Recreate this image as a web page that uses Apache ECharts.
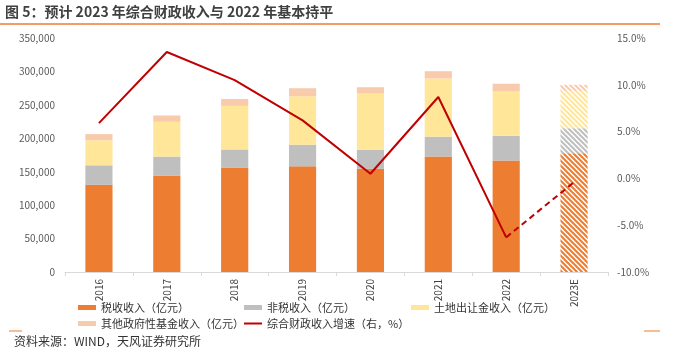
<!DOCTYPE html>
<html>
<head>
<meta charset="utf-8">
<script src="https://cdn.jsdelivr.net/npm/echarts@6/dist/echarts.min.js"></script>
<style>
html,body{margin:0;padding:0;background:#fff;}
#main{width:674px;height:359px;}
</style>
</head>
<body>
<div id="main"></div>
<script>
// ---- data ----
var categories = ['2016','2017','2018','2019','2020','2021','2022','2023E'];
var taxRevenue = [130361, 144370, 156403, 157992, 154312, 172731, 166614, 177500];
var nonTaxRevenue = [29244, 28222, 26949, 32390, 28584, 29646, 37089, 37500];
var landRevenue = [37457, 52059, 65096, 72517, 84142, 87051, 66854, 56000];
var otherFundRevenue = [9186, 9421, 10309, 11999, 9347, 10973, 11025, 9000];
var growthActual = [5.9, 13.5, 10.5, 6.2, 0.5, 8.7, -6.3, null];
var growthForecast = [null, null, null, null, null, null, -6.3, -0.4];
var leftTicks = [0, 50000, 100000, 150000, 200000, 250000, 300000, 350000];
var rightTicks = [-10, -5, 0, 5, 10, 15];
var seriesNames = ['税收收入（亿元）','非税收入（亿元）','土地出让金收入（亿元）','其他政府性基金收入（亿元）','综合财政收入增速（右，%）'];

// ---- chart ----
var colors = ['#ED7D31', '#BFBFBF', '#FFE699', '#F8CBAD'];
var FONT = '"Noto Sans CJK SC", "Liberation Sans", sans-serif';

function hatch(color) {
  var s = 5;
  var c = document.createElement('canvas');
  c.width = s; c.height = s;
  var ctx = c.getContext('2d');
  ctx.fillStyle = '#ffffff';
  ctx.fillRect(0, 0, s, s);
  ctx.strokeStyle = color;
  ctx.lineWidth = 2;
  ctx.beginPath();
  ctx.moveTo(-s, 0); ctx.lineTo(s * 2, s * 3);
  ctx.moveTo(-s * 2, 0); ctx.lineTo(s, s * 3);
  ctx.moveTo(0, 0); ctx.lineTo(s * 3, s * 3);
  ctx.moveTo(0, -s); ctx.lineTo(s * 2, s);
  ctx.moveTo(-s, -s); ctx.lineTo(s, s);
  ctx.moveTo(-s, -2 * s); ctx.lineTo(2 * s, s);
  ctx.stroke();
  return {image: c, repeat: 'repeat'};
}

function barData(values, idx) {
  return values.map(function (v, i) {
    if (i === values.length - 1) {
      return {value: v, itemStyle: {color: hatch(colors[idx])}};
    }
    return v;
  });
}

var barArrays = [taxRevenue, nonTaxRevenue, landRevenue, otherFundRevenue];
var series = barArrays.map(function (arr, idx) {
  return {
    name: seriesNames[idx],
    type: 'bar',
    stack: 'total',
    yAxisIndex: 0,
    barWidth: '40%',
    itemStyle: {color: colors[idx]},
    data: barData(arr, idx)
  };
});
series.push({
  name: seriesNames[4],
  type: 'line',
  yAxisIndex: 1,
  symbol: 'none',
  z: 5,
  lineStyle: {color: '#C00000', width: 2},
  itemStyle: {color: '#C00000'},
  data: growthActual
});
series.push({
  name: 'forecast',
  type: 'line',
  yAxisIndex: 1,
  symbol: 'none',
  z: 5,
  lineStyle: {color: '#C00000', width: 2, type: [6, 4]},
  itemStyle: {color: '#C00000'},
  data: growthForecast
});

function legendAt(name, left, top, isLine) {
  return {
    data: [{name: name, icon: 'rect'}],
    left: left, top: top,
    itemWidth: 18, itemHeight: isLine ? 2 : 5,
    textStyle: {fontSize: 11, color: '#333', fontFamily: FONT},
    padding: 0
  };
}

var option = {
  animation: false,
  backgroundColor: '#fff',
  textStyle: {fontFamily: FONT},
  grid: {left: 65, right: 66, top: 38, bottom: 87},
  legend: [
    legendAt(seriesNames[0], 78, 302, false),
    legendAt(seriesNames[1], 244, 302, false),
    legendAt(seriesNames[2], 411, 302, false),
    legendAt(seriesNames[3], 78, 318, false),
    legendAt(seriesNames[4], 244, 318, true)
  ],
  xAxis: {
    type: 'category',
    data: categories,
    axisLine: {lineStyle: {color: '#D9D9D9'}},
    axisTick: {show: true, length: 4, lineStyle: {color: '#D9D9D9'}},
    axisLabel: {rotate: 90, fontSize: 10, color: '#404040', margin: 7}
  },
  yAxis: [
    {
      type: 'value', min: 0, max: 350000, interval: 50000,
      splitLine: {show: false},
      axisLine: {show: false}, axisTick: {show: false},
      axisLabel: {
        fontSize: 10, color: '#595959', margin: 10,
        formatter: function (v) { return v.toLocaleString('en-US'); }
      }
    },
    {
      type: 'value', min: -10, max: 15, interval: 5,
      splitLine: {show: false},
      axisLine: {show: false}, axisTick: {show: false},
      axisLabel: {
        fontSize: 10, color: '#595959', margin: 9,
        formatter: function (v) { return v.toFixed(1) + '%'; }
      }
    }
  ],
  graphic: [
    {type: 'text', left: 5, top: 5, style: {text: '图 5：预计 2023 年综合财政收入与 2022 年基本持平', font: 'bold 14px ' + FONT, fill: '#404040'}},
    {type: 'line', shape: {x1: 0, y1: 24, x2: 660, y2: 24}, style: {stroke: '#ED7D31', lineWidth: 1.5}},
    {type: 'line', shape: {x1: 9, y1: 331, x2: 22, y2: 331}, style: {stroke: '#ED7D31', lineWidth: 1}},
    {type: 'line', shape: {x1: 644, y1: 331, x2: 660, y2: 331}, style: {stroke: '#ED7D31', lineWidth: 1}},
    {type: 'text', left: 14, top: 335, style: {text: '资料来源：WIND，天风证券研究所', font: '12px ' + FONT, fill: '#333'}}
  ],
  series: series
};

var chart = echarts.init(document.getElementById('main'), null, {renderer: 'canvas'});
chart.setOption(option);
</script>
</body>
</html>
